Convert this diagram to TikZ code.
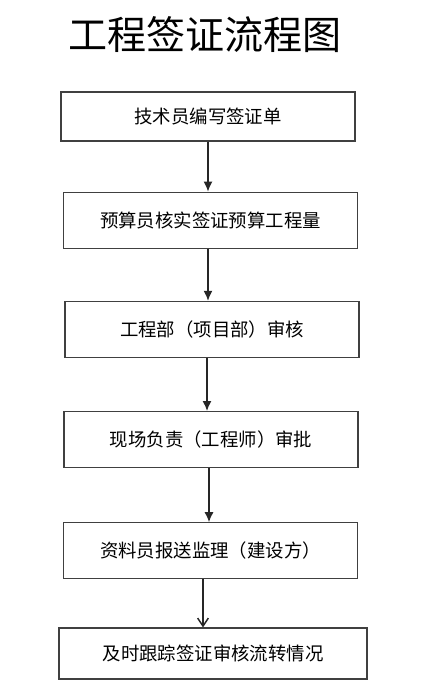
\documentclass[tikz,border=0pt]{standalone}
\usepackage{fontspec}
\setmainfont{Noto Sans CJK SC}
\usetikzlibrary{positioning}
\usetikzlibrary{arrows.meta}
\tikzset{
	stepbox/.style={draw=black!75, rectangle, line width=0.9pt, inner sep=2pt, minimum width=220.5pt, minimum height=42pt, text centered, font=\fontsize{13.8pt}{16pt}\selectfont},
	% title on top
	headline/.style={font=\fontsize{29.3pt}{34pt}\selectfont},
}

\begin{document}
\begin{tikzpicture}[x=0.75pt, y=-0.75pt]
		
		\useasboundingbox (0,0) rectangle (437,680);
		
		\node (title) [headline] at (205,35) {工程签证流程图};
		
		\node (write) [stepbox, minimum height=36.75pt] at (208,116.5) {技术员编写签证单};
		
		\node (check) [stepbox, below=37.5pt of write, xshift=1.9pt] {预算员核实签证预算工程量};
		
		\node (dept) [stepbox, below=39pt of check, xshift=1.1pt] {工程部（项目部）审核};
		
		\node (site) [stepbox, below=39.75pt of dept, xshift=-0.75pt] {现场负责（工程师）审批};
		
		\node (report) [stepbox, below=40.5pt of site, xshift=-0.4pt] {资料员报送监理（建设方）};
		
		\node (track) [stepbox, below=36pt of report, xshift=1.9pt, minimum width=231pt, minimum height=38.25pt] {及时跟踪签证审核流转情况};
		
		\begin{scope}[line width=1.1pt, black!85, ->, >={Latex[length=7.5pt, width=6.8pt]}]
			\draw (write.south) -- (write.south |- check.north);
			\draw ([xshift=-1.9pt]check.south) -- ([xshift=-1.9pt]check.south |- dept.north);
			\draw ([xshift=-3.75pt]dept.south) -- ([xshift=-3.75pt]dept.south |- site.north);
			\draw ([xshift=-1.5pt]site.south) -- ([xshift=-1.5pt]site.south |- report.north);
			\draw [>={Straight Barb[length=6pt, width=8pt]}] ([xshift=-5.6pt]report.south) -- ([xshift=-5.6pt]report.south |- track.north);
		\end{scope}
	\end{tikzpicture}
\end{document}
